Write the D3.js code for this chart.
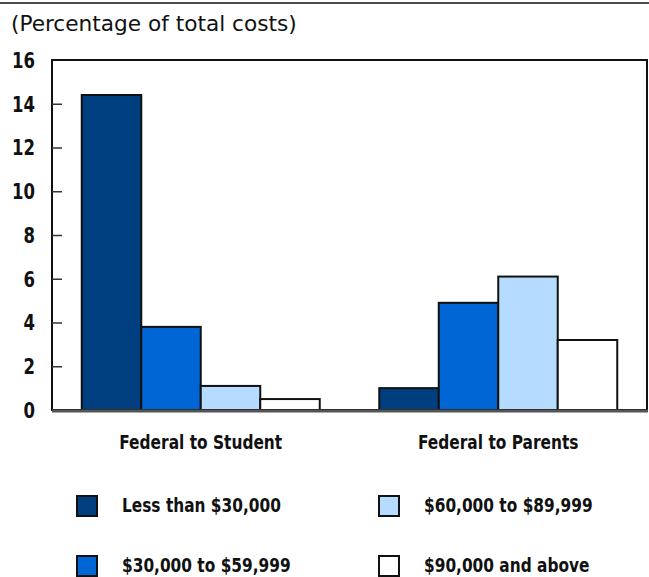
<!DOCTYPE html>
<html><head><meta charset="utf-8">
<script src="https://cdn.jsdelivr.net/npm/d3@7"></script>
<style>body{margin:0;background:#fff}svg{display:block}text{font-family:"DejaVu Sans Condensed","DejaVu Sans",sans-serif;fill:#111}</style>
</head><body>
<svg id="c" width="649" height="577"></svg>
<script>
const categories = ["Federal to Student", "Federal to Parents"];
const seriesNames = ["Less than $30,000", "$30,000 to $59,999", "$60,000 to $89,999", "$90,000 and above"];
const values = [
  [14.4, 3.8, 1.1, 0.5],
  [1.0, 4.9, 6.1, 3.2]
];
const yTicks = [0, 2, 4, 6, 8, 10, 12, 14, 16];
const colors = ["#003f7f", "#0066d6", "#b5dcff", "#ffffff"];

const svg = d3.select("#c");
const L = 52, R = 647, T = 60, B = 410;

// horizontally condense a selection of texts by a factor around their anchor
function squeeze(sel, refNode, targetW) {
  const f = targetW / refNode.getComputedTextLength();
  sel.each(function() {
    const t = d3.select(this);
    const x = +(t.attr("x") || 0), yy = +(t.attr("y") || 0);
    t.attr("transform", `translate(${x},${yy}) scale(${f},1) translate(${-x},${-yy})`);
  });
}

svg.append("line").attr("x1",0).attr("x2",649).attr("y1",3).attr("y2",3).attr("stroke","#111").attr("stroke-width",1.5);
const title = svg.append("text").attr("x",11).attr("y",31).attr("font-size",22).text("(Percentage of total costs)");
squeeze(title, title.node(), 286);

const y = d3.scaleLinear().domain([0,16]).range([B,T]);
const x0 = d3.scaleBand().domain(categories).range([L,R]).paddingInner(0.2).paddingOuter(0.1);
const x1 = d3.scaleBand().domain(d3.range(seriesNames.length)).range([0,x0.bandwidth()]);

// frame
svg.append("rect").attr("x",L).attr("y",T).attr("width",R-L).attr("height",B-T).attr("fill","none").attr("stroke","#111").attr("stroke-width",2);

// y axis
const ax = svg.append("g").attr("transform",`translate(${L},0)`)
  .call(d3.axisRight(y).tickValues(yTicks).tickSize(10).tickFormat(d3.format("d")));
ax.select(".domain").remove();
ax.selectAll(".tick line").attr("stroke","#333").attr("stroke-width",1.5);
const tickTexts = ax.selectAll(".tick text").attr("x",-17).attr("text-anchor","end").attr("dy","0.35em")
  .attr("font-size",21).attr("font-weight","bold").attr("fill","#111");
ax.selectAll(".tick").filter(d=>d===0||d===16).select("line").remove();
squeeze(tickTexts, tickTexts.filter(d=>d===16).node(), 23);

// bars
const g = svg.append("g").selectAll("g").data(values).join("g")
  .attr("transform",(d,i)=>`translate(${x0(categories[i])},0)`);
g.selectAll("rect").data(d=>d).join("rect")
  .attr("x",(d,j)=>x1(j)).attr("width",x1.bandwidth())
  .attr("y",d=>y(d)).attr("height",d=>B-y(d))
  .attr("fill",(d,j)=>colors[j]).attr("stroke","#111").attr("stroke-width",2);

// baseline
svg.append("line").attr("x1",L).attr("x2",R+1).attr("y1",B+1).attr("y2",B+1).attr("stroke","#555").attr("stroke-width",3);

// category labels
const catT = svg.append("g").selectAll("text").data(categories).join("text")
  .attr("x",d=>x0(d)+x0.bandwidth()/2).attr("y",449).attr("text-anchor","middle")
  .attr("font-size",20).attr("font-weight","bold").text(d=>d);
squeeze(catT, catT.node(), 163);

// legend
const lg = svg.append("g").selectAll("g").data(seriesNames).join("g")
  .attr("transform",(d,i)=>`translate(${i<2?77:379},${i%2===0?496:556})`);
lg.append("rect").attr("width",20).attr("height",20).attr("fill",(d,i)=>colors[i]).attr("stroke","#111").attr("stroke-width",2);
const legT = lg.append("text").attr("x",45).attr("y",16).attr("font-size",20).attr("font-weight","bold").text(d=>d);
squeeze(legT, legT.node(), 159);
</script>
</body></html>
